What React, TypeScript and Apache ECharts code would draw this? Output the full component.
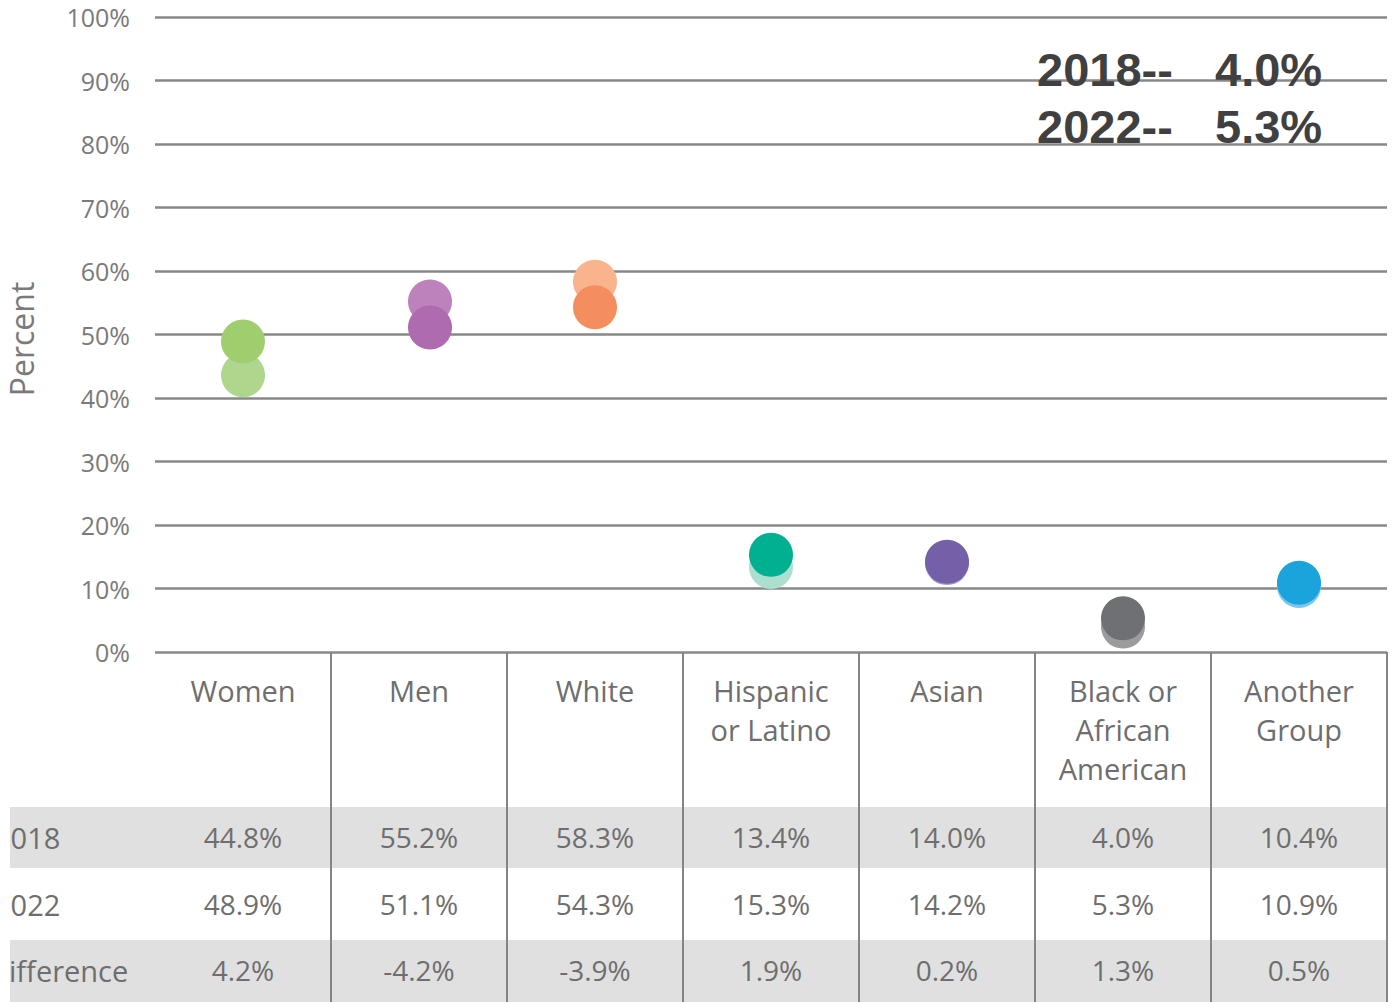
import React, { useEffect, useRef } from "react";
import * as echarts from "echarts";

const categories = [
  "Women",
  "Men",
  "White",
  "Hispanic\nor Latino",
  "Asian",
  "Black or\nAfrican\nAmerican",
  "Another\nGroup",
];
const years = ["2018", "2022"];
// table values
const val2018 = [44.8, 55.2, 58.3, 13.4, 14.0, 4.0, 10.4];
const val2022 = [48.9, 51.1, 54.3, 15.3, 14.2, 5.3, 10.9];
const diffs = [4.2, -4.2, -3.9, 1.9, 0.2, 1.3, 0.5];
// dot positions as drawn in the picture (the 2018 Women dot sits lower than its table value)
const dots2018 = [43.6, 55.2, 58.3, 13.4, 14.0, 4.0, 10.4];
const dots2022 = [48.9, 51.1, 54.3, 15.3, 14.2, 5.3, 10.9];
const rowLabels = ["2018", "2022", "Difference"];
const yTicks = [0, 10, 20, 30, 40, 50, 60, 70, 80, 90, 100];
const colors2018 = ["#aed68c", "#bd82bb", "#f9b48e", "#acdfd0", "#a898c8", "#9c9c9e", "#7cc6ea"];
const colors2022 = ["#a0ce6f", "#ae6bae", "#f58e5e", "#00b090", "#7460a8", "#6f7073", "#1ba4dc"];
const highlightIndex = 5;

const FONT = "'Open Sans', sans-serif";
const TXT = "#6e6e6e";

export default function App() {
  const ref = useRef<HTMLDivElement>(null);
  useEffect(() => {
    if (!ref.current) return;
    const chart = echarts.init(ref.current, null, { renderer: "svg" });
    const fmt = (v: number) => v.toFixed(1) + "%";
    // in the source picture the "Men" dots sit slightly right of the column centre
    const dotShift = (i: number) => (i === 1 ? [11, 0] : [0, 0]);
    const rowAxis = (data: string[], offset: number) => ({
      type: "category",
      position: "bottom",
      data,
      offset,
      boundaryGap: true,
      axisLine: { show: false },
      axisTick: { show: false },
      axisLabel: {
        interval: 0,
        margin: 0,
        verticalAlign: "middle",
        fontFamily: FONT,
        fontSize: 28,
        color: TXT,
      },
      splitLine: { show: false },
    });
    const bold = `bold 47px 'Liberation Sans', Arial, sans-serif`;
    chart.setOption({
      animation: false,
      backgroundColor: "#ffffff",
      grid: { left: 155, right: 6, top: 17, bottom: 350, outerBoundsMode: "none" },
      xAxis: [
        {
          type: "category",
          data: categories,
          position: "bottom",
          boundaryGap: true,
          axisLine: { show: false },
          axisTick: {
            show: true,
            interval: (index: number) => index !== 0,
            length: 350,
            inside: false,
            lineStyle: { color: "#858585", width: 2 },
          },
          axisLabel: {
            interval: 0,
            margin: 19,
            fontFamily: FONT,
            fontSize: 29,
            lineHeight: 39,
            color: TXT,
            verticalAlign: "top",
          },
          splitLine: { show: false },
          z: 3,
        },
        rowAxis(val2018.map(fmt), 185),
        rowAxis(val2022.map(fmt), 252),
        rowAxis(diffs.map(fmt), 318),
      ],
      yAxis: {
        type: "value",
        min: yTicks[0],
        max: yTicks[yTicks.length - 1],
        interval: 10,
        axisLine: { show: false },
        axisTick: { show: false },
        axisLabel: {
          formatter: (v: number) => v + "%",
          margin: 25,
          fontFamily: FONT,
          fontSize: 25,
          color: "#7a7a7a",
        },
        splitLine: { show: true, lineStyle: { color: "#888888", width: 2.5 } },
      },
      series: [
        {
          name: years[0],
          type: "scatter",
          xAxisIndex: 0,
          symbol: "circle",
          symbolSize: 44,
          itemStyle: { opacity: 1 },
          data: dots2018.map((v, i) => ({
            value: [i, v],
            symbolOffset: dotShift(i),
            itemStyle: { color: colors2018[i], opacity: 1 },
          })),
          z: 4,
        },
        {
          name: years[1],
          type: "scatter",
          xAxisIndex: 0,
          symbol: "circle",
          symbolSize: 44,
          itemStyle: { opacity: 1 },
          data: dots2022.map((v, i) => ({
            value: [i, v],
            symbolOffset: dotShift(i),
            itemStyle: { color: colors2022[i], opacity: 1 },
          })),
          z: 5,
        },
      ],
      graphic: [
        { type: "rect", z: -10, shape: { x: 10, y: 807, width: 1377, height: 61 }, style: { fill: "#e0e0e0" } },
        { type: "rect", z: -10, shape: { x: 10, y: 940, width: 1377, height: 62 }, style: { fill: "#e0e0e0" } },
        { type: "text", z: 5, x: -6, y: 837, style: { text: rowLabels[0], font: `29px ${FONT}`, fill: TXT, textAlign: "left", textVerticalAlign: "middle" } },
        { type: "text", z: 5, x: -6, y: 904, style: { text: rowLabels[1], font: `29px ${FONT}`, fill: TXT, textAlign: "left", textVerticalAlign: "middle" } },
        { type: "text", z: 5, x: -12, y: 970, style: { text: rowLabels[2], font: `29px ${FONT}`, fill: TXT, textAlign: "left", textVerticalAlign: "middle" } },
        { type: "rect", z: 20, shape: { x: 0, y: 790, width: 10, height: 212 }, style: { fill: "#ffffff" } },
        {
          type: "text", z: 10, x: 21, y: 339, rotation: Math.PI / 2,
          style: { text: "Percent", font: `32px ${FONT}`, fill: "#7a7a7a", textAlign: "center", textVerticalAlign: "middle" },
        },
        { type: "text", z: 10, x: 1037, y: 69, style: { text: years[0] + "--", font: bold, fill: "#404040", textVerticalAlign: "middle" } },
        { type: "text", z: 10, x: 1215, y: 69, style: { text: fmt(val2018[highlightIndex]), font: bold, fill: "#404040", textVerticalAlign: "middle" } },
        { type: "text", z: 10, x: 1037, y: 126, style: { text: years[1] + "--", font: bold, fill: "#404040", textVerticalAlign: "middle" } },
        { type: "text", z: 10, x: 1215, y: 126, style: { text: fmt(val2022[highlightIndex]), font: bold, fill: "#404040", textVerticalAlign: "middle" } },
      ],
    });
    return () => chart.dispose();
  }, []);
  return (
    <div
      ref={ref}
      style={{ position: "absolute", left: 0, top: 0, width: 1393, height: 1002 }}
    />
  );
}
